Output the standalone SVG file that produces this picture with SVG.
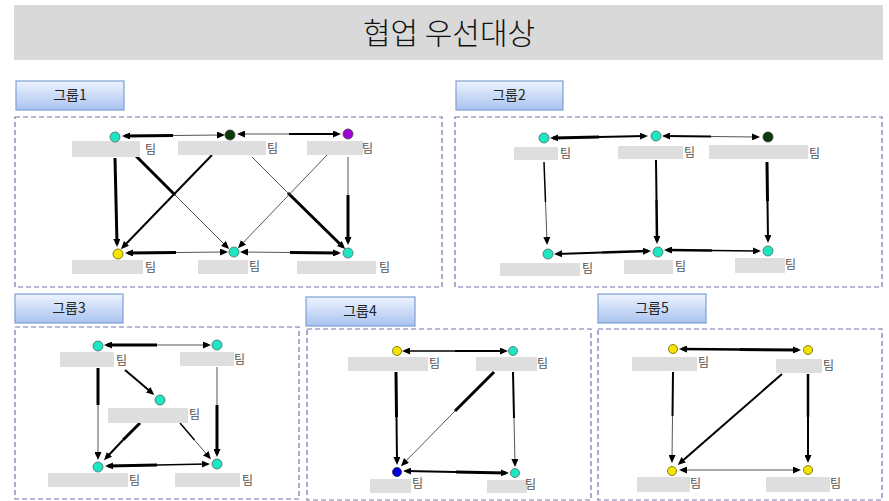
<svg xmlns="http://www.w3.org/2000/svg" width="889" height="501" viewBox="0 0 889 501">
<defs>
<linearGradient id="gb" x1="0" y1="0" x2="0" y2="1">
<stop offset="0" stop-color="#eef4ff"/><stop offset="1" stop-color="#a9c3ef"/>
</linearGradient>
<marker id="ah" viewBox="0 0 8 7" markerUnits="userSpaceOnUse" markerWidth="8" markerHeight="7" refX="5" refY="3.5" orient="auto-start-reverse">
<path d="M0,0 L8,3.5 L0,7 z" fill="#000"/>
</marker>
<style>
.title{font-family:"Noto Sans CJK KR","Noto Sans",sans-serif;font-size:30px;font-weight:300;fill:#111;text-anchor:middle}
.gl rect{fill:url(#gb);stroke:#7e9fd3;stroke-width:1.2}
.gl text{font-family:"Noto Sans CJK KR",sans-serif;font-size:14px;fill:#222;text-anchor:middle}
.box{fill:none;stroke:#7472ac;stroke-width:1.2;stroke-dasharray:5 3}
.nl{fill:#dedede}
.tm{font-family:"Noto Sans CJK KR",sans-serif;font-size:12px;fill:#555}
.c{fill:#1ee6c2;stroke:#4a6a66;stroke-width:0.8}
.dg{fill:#0b3a0b;stroke:#333;stroke-width:0.8}
.pu{fill:#a000d8;stroke:#444;stroke-width:0.8}
.ye{fill:#f5e300;stroke:#6a6200;stroke-width:0.8}
.bl{fill:#0000e0;stroke:#222;stroke-width:0.8}
#edges path{fill:none;stroke:#000}
.w1{stroke-width:1;stroke:#555!important}
.w15{stroke-width:1.5}
.w2{stroke-width:2}
.w25{stroke-width:2.5}
.w3{stroke-width:3}
.s{marker-start:url(#ah)}
.e{marker-end:url(#ah)}
</style>
</defs>
<rect x="0" y="0" width="889" height="501" fill="#fff"/>
<g id="title">
<rect x="14" y="5" width="869" height="55" fill="#d9d9d9"/>
<text class="title" x="449" y="44">협업 우선대상</text>
</g>

<g id="group1-frame"><rect class="box" x="15" y="117" width="427" height="170"/><g class="gl"><rect x="16" y="81" width="108" height="29"/><text x="70" y="100">그룹1</text></g></g>
<g id="group2-frame"><rect class="box" x="455" y="117" width="427" height="170"/><g class="gl"><rect x="456" y="81" width="107" height="29"/><text x="509" y="100">그룹2</text></g></g>
<g id="group3-frame"><rect class="box" x="15" y="327" width="284" height="172"/><g class="gl"><rect x="15" y="294" width="108" height="29"/><text x="69" y="313">그룹3</text></g></g>
<g id="group4-frame"><rect class="box" x="307" y="329" width="284" height="171"/><g class="gl"><rect x="306" y="297" width="109" height="29"/><text x="360" y="316">그룹4</text></g></g>
<g id="group5-frame"><rect class="box" x="598" y="329" width="284" height="171"/><g class="gl"><rect x="598" y="294" width="108" height="29"/><text x="652" y="313">그룹5</text></g></g>

<g id="edges">
<!-- group 1 -->
<path class="w3 s" d="M125,136 L173,135.5"/><path class="w1 e" d="M173,135.5 L222,135"/>
<path class="w1 s" d="M240,134 L289,134"/><path class="w2 e" d="M289,134 L338,134"/>
<path class="w3" d="M115,158 L116,201"/><path class="w3 e" d="M116,201 L117,244"/>
<path class="w3" d="M135,155 L175,195"/><path class="w1 e" d="M175,195 L227,247"/>
<path class="w2" d="M212,155 L167.5,201"/><path class="w2 e" d="M167.5,201 L123,247"/>
<path class="w1" d="M252,157 L288,193"/><path class="w3 e" d="M288,193 L343,247"/>
<path class="w1" d="M327,155 L283.5,200.5"/><path class="w1 e" d="M283.5,200.5 L240,246"/>
<path class="w1" d="M348,157 L348,195"/><path class="w3 e" d="M348,195 L348,242"/>
<path class="w3 s" d="M128,253 L176,252.5"/><path class="w1 e" d="M176,252.5 L225,252"/>
<path class="w1 s" d="M243,252 L290,252.5"/><path class="w3 e" d="M290,252.5 L338,253"/>
<!-- group 2 -->
<path class="w3 s" d="M553,138 L599,137"/><path class="w2 e" d="M599,137 L645,136"/>
<path class="w2 s" d="M665,136 L711,136.5"/><path class="w1 e" d="M711,136.5 L757,137"/>
<path class="w15" d="M544,162 L545.5,202"/><path class="w1 e" d="M545.5,202 L547,242"/>
<path class="w2" d="M656,160 L656.5,200"/><path class="w25 e" d="M656.5,200 L657,241"/>
<path class="w3" d="M767,162 L767.5,201"/><path class="w2 e" d="M767.5,201 L768,240"/>
<path class="w2 s" d="M557,254 L602,252.5"/><path class="w25 e" d="M602,252.5 L648,251"/>
<path class="w25 s" d="M667,250 L712,250.5"/><path class="w15 e" d="M712,250.5 L758,251"/>
<!-- group 3 -->
<path class="w3 s" d="M107,345 L157,345"/><path class="w1 e" d="M157,345 L208,345"/>
<path class="w3" d="M98,368 L98,405"/><path class="w1 e" d="M98,405 L98,457"/>
<path class="w2" d="M125,370 L138,381"/><path class="w2 e" d="M138,381 L152,393"/>
<path class="w1" d="M217,367 L217,405"/><path class="w3 e" d="M217,405 L217,454"/>
<path class="w3" d="M140,423 L123,440"/><path class="w2 e" d="M123,440 L106,458"/>
<path class="w15" d="M180,423 L194.5,440"/><path class="w1 e" d="M194.5,440 L209,457"/>
<path class="w3 s" d="M108,466 L157,465"/><path class="w15 e" d="M157,465 L207,464"/>
<!-- group 4 -->
<path class="w15 s" d="M405,351 L455,351"/><path class="w2 e" d="M455,351 L505,351"/>
<path class="w3" d="M396,372 L396.5,417"/><path class="w2 e" d="M396.5,417 L397,462"/>
<path class="w3" d="M494,372 L455,411"/><path class="w1 e" d="M455,411 L403,464"/>
<path class="w2" d="M513,372 L514,418"/><path class="w1 e" d="M514,418 L515,464"/>
<path class="w2 s" d="M406,471 L456,472"/><path class="w3 e" d="M456,472 L506,473"/>
<!-- group 5 -->
<path class="w25 s" d="M682,349 L740,349.5"/><path class="w3 e" d="M740,349.5 L798,350"/>
<path class="w2" d="M673,372 L672.5,416"/><path class="w1 e" d="M672.5,416 L672,460"/>
<path class="w2" d="M782,374 L731,418.5"/><path class="w2 e" d="M731,418.5 L680,463"/>
<path class="w25" d="M808,374 L808,417"/><path class="w2 e" d="M808,417 L808,460"/>
<path class="w1 s" d="M682,470 L740,470"/><path class="w1 e" d="M740,470 L798,470"/>
</g>

<!-- group 1 nodes -->
<g id="g1-tl"><rect class="nl" x="72" y="141" width="68" height="16"/><circle class="c" cx="115" cy="137" r="5"/><text class="tm" x="145" y="154">팀</text></g>
<g id="g1-tm"><rect class="nl" x="178" y="141" width="88" height="14"/><circle class="dg" cx="230" cy="135" r="5"/><text class="tm" x="267" y="153">팀</text></g>
<g id="g1-tr"><rect class="nl" x="307" y="141" width="56" height="14"/><circle class="pu" cx="348" cy="134" r="5"/><text class="tm" x="362" y="153">팀</text></g>
<g id="g1-bl"><rect class="nl" x="72" y="260" width="71" height="14"/><circle class="ye" cx="118" cy="254" r="5"/><text class="tm" x="145" y="272">팀</text></g>
<g id="g1-bm"><rect class="nl" x="198" y="260" width="50" height="14"/><circle class="c" cx="234" cy="252" r="5"/><text class="tm" x="249" y="271">팀</text></g>
<g id="g1-br"><rect class="nl" x="297" y="261" width="79" height="13"/><circle class="c" cx="348" cy="253" r="5"/><text class="tm" x="379" y="272">팀</text></g>
<!-- group 2 nodes -->
<g id="g2-tl"><rect class="nl" x="514" y="147" width="44" height="13"/><circle class="c" cx="544" cy="138" r="5"/><text class="tm" x="560" y="158">팀</text></g>
<g id="g2-tm"><rect class="nl" x="618" y="146" width="65" height="13"/><circle class="c" cx="656" cy="136" r="5"/><text class="tm" x="684" y="157">팀</text></g>
<g id="g2-tr"><rect class="nl" x="709" y="145" width="99" height="14"/><circle class="dg" cx="768" cy="137" r="5"/><text class="tm" x="809" y="158">팀</text></g>
<g id="g2-bl"><rect class="nl" x="500" y="263" width="80" height="13"/><circle class="c" cx="548" cy="254" r="5"/><text class="tm" x="582" y="273">팀</text></g>
<g id="g2-bm"><rect class="nl" x="624" y="260" width="49" height="14"/><circle class="c" cx="658" cy="252" r="5"/><text class="tm" x="675" y="271">팀</text></g>
<g id="g2-br"><rect class="nl" x="735" y="258" width="50" height="15"/><circle class="c" cx="768" cy="251" r="5"/><text class="tm" x="785" y="269">팀</text></g>
<!-- group 3 nodes -->
<g id="g3-tl"><rect class="nl" x="60" y="352" width="54" height="15"/><circle class="c" cx="98" cy="346" r="5"/><text class="tm" x="116" y="365">팀</text></g>
<g id="g3-tr"><rect class="nl" x="180" y="352" width="54" height="14"/><circle class="c" cx="217" cy="345" r="5"/><text class="tm" x="234" y="364">팀</text></g>
<g id="g3-mid"><rect class="nl" x="108" y="408" width="80" height="15"/><circle class="c" cx="160" cy="400" r="5"/><text class="tm" x="189" y="419">팀</text></g>
<g id="g3-bl"><rect class="nl" x="48" y="473" width="80" height="14"/><circle class="c" cx="98" cy="467" r="5"/><text class="tm" x="129" y="485">팀</text></g>
<g id="g3-br"><rect class="nl" x="175" y="473" width="65" height="14"/><circle class="c" cx="217" cy="464" r="5"/><text class="tm" x="242" y="485">팀</text></g>
<!-- group 4 nodes -->
<g id="g4-tl"><rect class="nl" x="348" y="357" width="80" height="14"/><circle class="ye" cx="397" cy="351" r="4.5"/><text class="tm" x="429" y="368">팀</text></g>
<g id="g4-tr"><rect class="nl" x="476" y="357" width="61" height="14"/><circle class="c" cx="513" cy="351" r="4.5"/><text class="tm" x="537" y="368">팀</text></g>
<g id="g4-bl"><rect class="nl" x="370" y="479" width="41" height="14"/><circle class="bl" cx="397" cy="472" r="4.5"/><text class="tm" x="412" y="488">팀</text></g>
<g id="g4-br"><rect class="nl" x="487" y="480" width="40" height="13"/><circle class="c" cx="515" cy="473" r="4.5"/><text class="tm" x="525" y="489">팀</text></g>
<!-- group 5 nodes -->
<g id="g5-tl"><rect class="nl" x="632" y="357" width="65" height="14"/><circle class="ye" cx="673" cy="349" r="4.5"/><text class="tm" x="698" y="367">팀</text></g>
<g id="g5-tr"><rect class="nl" x="776" y="359" width="46" height="14"/><circle class="ye" cx="808" cy="350" r="4.5"/><text class="tm" x="823" y="370">팀</text></g>
<g id="g5-bl"><rect class="nl" x="637" y="477" width="53" height="15"/><circle class="ye" cx="672" cy="471" r="4.5"/><text class="tm" x="690" y="488">팀</text></g>
<g id="g5-br"><rect class="nl" x="766" y="477" width="64" height="15"/><circle class="ye" cx="808" cy="470" r="4.5"/><text class="tm" x="830" y="488">팀</text></g>
</svg>
